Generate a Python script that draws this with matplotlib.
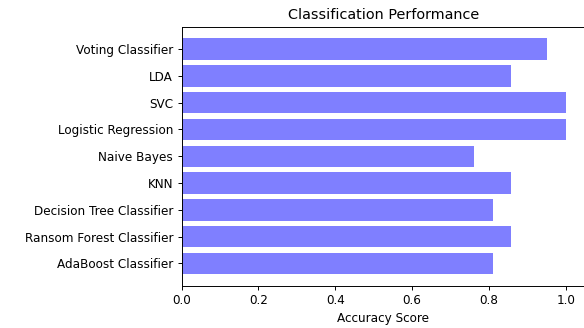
import numpy as np
import matplotlib
matplotlib.use('Agg')
import matplotlib.pyplot as plt

# models, top to bottom as drawn
models = ['Voting Classifier', 'LDA', 'SVC', 'Logistic Regression', 'Naive Bayes',
          'KNN', 'Decision Tree Classifier', 'Ransom Forest Classifier', 'AdaBoost Classifier']
scores = [0.952, 0.857, 1.0, 1.0, 0.762, 0.857, 0.810, 0.857, 0.810]

# barh draws from the bottom up, so reverse
models = models[::-1]
scores = scores[::-1]
y_pos = np.arange(len(models))

dpi = 86.4
fig = plt.figure(figsize=(584/dpi, 328/dpi), dpi=dpi)
ax = fig.add_axes([181.5/584, 42/328, 403.5/584, 259.5/328])
ax.barh(y_pos, scores, align='center', color='b', alpha=0.5)
ax.set_yticks(y_pos)
ax.set_yticklabels(models)
ax.set_xlabel('Accuracy Score')
ax.set_title('Classification Performance')

fig.savefig('out.png', dpi=dpi)
